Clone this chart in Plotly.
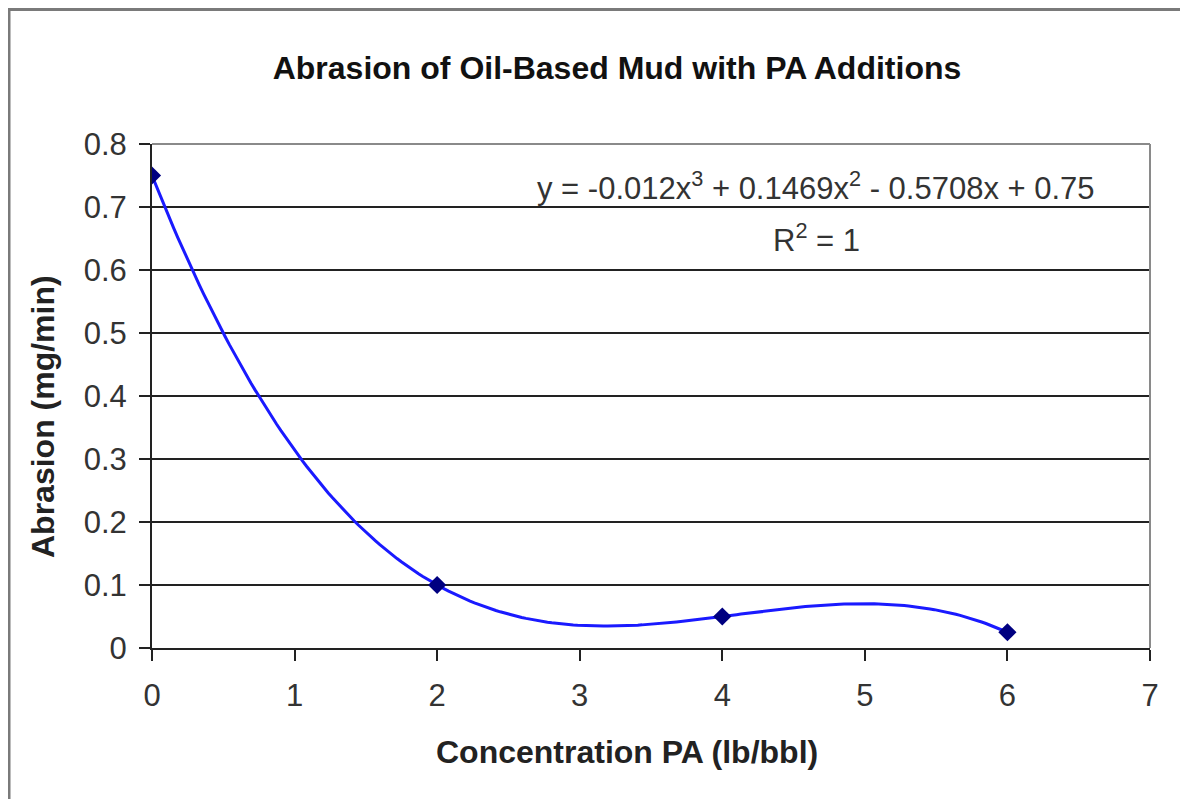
'''
Abrasion of oil-based mud vs PA concentration, with cubic trendline
'''
import numpy as np
import plotly.graph_objects as go

# measured points
conc_pa = [0, 2, 4, 6]
abrasion = [0.75, 0.10, 0.05, 0.025]

x_ticks = [0, 1, 2, 3, 4, 5, 6, 7]
y_ticks = [0, 0.1, 0.2, 0.3, 0.4, 0.5, 0.6, 0.7, 0.8]
y_tick_text = ['0', '0.1', '0.2', '0.3', '0.4', '0.5', '0.6', '0.7', '0.8']

# the page body has an 8px margin, so the figure is a bit smaller than the window
OFF = 8
W, H = 1180, 791
L, T = 152 - OFF, 144 - OFF
R = W - (1150 - OFF)
B = H - (648 - OFF)
FONT = 'Liberation Sans, Arial, sans-serif'

# Excel style 3rd order polynomial trendline fitted to the points
coef = np.polyfit(conc_pa, abrasion, 3)
trend_x = np.linspace(min(conc_pa), max(conc_pa), 200)
trend_y = np.polyval(coef, trend_x)

def px(x):  # window pixel -> paper x
  return (x - OFF - L) / (W - L - R)

def py(y):  # window pixel -> paper y
  return 1 - (y - OFF - T) / (H - T - B)

fig = go.Figure()
fig.add_trace(go.Scatter(
  x=trend_x, y=trend_y, mode='lines',
  line=dict(color='#1a1aff', width=3), hoverinfo='skip'))
fig.add_trace(go.Scatter(
  x=conc_pa, y=abrasion, mode='markers',
  marker=dict(symbol='diamond', size=14, color='#000080')))

fig.update_xaxes(
  range=[0, 7], tickvals=x_ticks, showgrid=False, zeroline=False,
  showline=True, linecolor='#222', linewidth=2,
  ticks='outside', ticklen=11, tickwidth=2, tickcolor='#222',
  ticklabelstandoff=8,
  tickfont=dict(family=FONT, size=31, color='#333'))
fig.update_yaxes(
  range=[0, 0.8], tickvals=y_ticks, ticktext=y_tick_text,
  showgrid=True, gridcolor='#222', gridwidth=2, zeroline=False,
  showline=True, linecolor='#222', linewidth=2,
  ticks='outside', ticklen=11, tickwidth=2, tickcolor='#222',
  ticklabelstandoff=6,
  tickfont=dict(family=FONT, size=31, color='#333'))

fig.update_layout(
  width=W, height=H, showlegend=False,
  margin=dict(l=L, r=R, t=T, b=B, autoexpand=False),
  paper_bgcolor='white', plot_bgcolor='white',
  title=dict(text='<b>Abrasion of Oil-Based Mud with PA Additions</b>',
             x=(617 - OFF) / W, xanchor='center', y=1 - (68 - OFF) / H, yanchor='middle',
             font=dict(family=FONT, size=32, color='#111')),
  shapes=[
    # outer chart frame (only left/top visible in the window)
    dict(type='rect', xref='paper', yref='paper',
         x0=px(9), x1=px(1220), y0=py(830), y1=py(9.5),
         line=dict(color='#7a7a7a', width=3), layer='below'),
    # plot area top / right edges in grey
    dict(type='line', xref='paper', yref='paper', x0=0, x1=1, y0=1, y1=1,
         line=dict(color='#8a8a8a', width=2), layer='above'),
    dict(type='line', xref='paper', yref='paper', x0=1, x1=1, y0=0, y1=1,
         line=dict(color='#8a8a8a', width=2), layer='above'),
  ],
  annotations=[
    # axis titles
    dict(text='<b>Concentration PA (lb/bbl)</b>',
         xref='paper', yref='paper', x=px(627), y=py(752),
         xanchor='center', yanchor='middle', showarrow=False,
         font=dict(family=FONT, size=32, color='#222')),
    dict(text='<b>Abrasion (mg/min)</b>', textangle=-90,
         xref='paper', yref='paper', x=px(43), y=py(417),
         xanchor='center', yanchor='middle', showarrow=False,
         font=dict(family=FONT, size=32, color='#222')),
    # trendline label
    dict(text='y = -0.012x<sup>3</sup> + 0.1469x<sup>2</sup> - 0.5708x + 0.75',
         xref='paper', yref='paper', x=px(816), y=py(186),
         xanchor='center', yanchor='middle', showarrow=False,
         font=dict(family=FONT, size=31, color='#333')),
    dict(text='R<sup>2</sup> = 1',
         xref='paper', yref='paper', x=px(816), y=py(238),
         xanchor='center', yanchor='middle', showarrow=False,
         font=dict(family=FONT, size=31, color='#333')),
  ])

fig.write_html('out.html')
